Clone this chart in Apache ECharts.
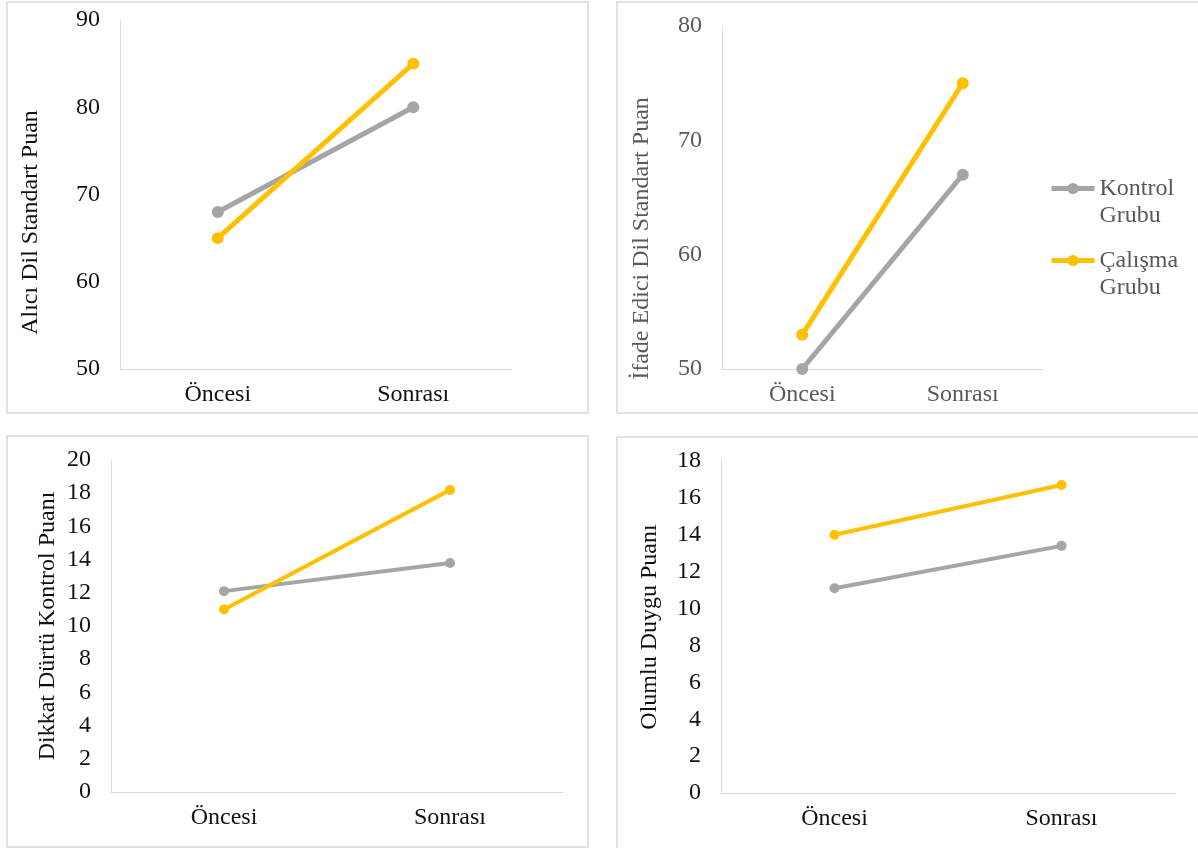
<!DOCTYPE html>
<html>
<head>
<meta charset="utf-8">
<script src="https://cdn.jsdelivr.net/npm/echarts@6/dist/echarts.min.js"></script>
<style>
  html, body { margin: 0; padding: 0; background: #fff; }
  #chart { width: 1198px; height: 848px; }
</style>
</head>
<body>
<div id="chart"></div>
<script>
// ---- data ----
const categories = ['Öncesi', 'Sonrası'];
const seriesNames = ['Kontrol Grubu', 'Çalışma Grubu'];

const aliciKontrol = [68, 80];
const aliciCalisma = [65, 85];

const ifadeKontrol = [50, 67];
const ifadeCalisma = [53, 75];

const dikkatKontrol = [12.1, 13.8];
const dikkatCalisma = [11.0, 18.2];

const olumluKontrol = [11.1, 13.4];
const olumluCalisma = [14.0, 16.7];

const yTitles = ['Alıcı Dil Standart Puan', 'İfade Edici Dil Standart Puan', 'Dikkat Dürtü Kontrol Puanı', 'Olumlu Duygu Puanı'];
const yMins = [50, 50, 0, 0];
const yMaxs = [90, 80, 20, 18];
const yIntervals = [10, 10, 2, 2];

// ---- styling / layout ----
const FONT = "'Liberation Serif', 'Times New Roman', serif";
const GRAY = '#A5A5A5';
const GOLD = '#FFC000';
const AXIS = '#D9D9D9';
const textColors = ['#111', '#595959', '#111', '#111'];
const grids = [
  { left: 120, top: 20, width: 391, height: 349 },
  { left: 722, top: 26, width: 321, height: 343 },
  { left: 111, top: 460, width: 452, height: 332 },
  { left: 721, top: 461, width: 454, height: 332 }
];
const nameGaps = [77, 68, 51, 59];
const namePads = [[0, 56, 0, 0], [0, 82, 0, 0], [0, 0, 0, 0], [0, 0, 0, 0]];
const lineWidths = [5, 5, 4, 4];
const symbolSizes = [12, 12, 10, 10];
const dataSets = [
  [aliciKontrol, aliciCalisma],
  [ifadeKontrol, ifadeCalisma],
  [dikkatKontrol, dikkatCalisma],
  [olumluKontrol, olumluCalisma]
];

const xAxes = [], yAxes = [], series = [];
grids.forEach((g, i) => {
  xAxes.push({
    type: 'category', gridIndex: i, data: categories, boundaryGap: true,
    axisLine: { show: true, lineStyle: { color: AXIS, width: 1 } },
    axisTick: { show: false },
    axisLabel: { fontFamily: FONT, fontSize: 24, color: textColors[i], margin: 14 },
    splitLine: { show: false }
  });
  yAxes.push({
    type: 'value', gridIndex: i, min: yMins[i], max: yMaxs[i], interval: yIntervals[i],
    name: yTitles[i], nameLocation: 'middle', nameGap: nameGaps[i],
    nameTextStyle: { fontFamily: FONT, fontSize: 24, color: textColors[i], padding: namePads[i] },
    axisLine: { show: true, lineStyle: { color: AXIS, width: 1 } },
    axisTick: { show: false },
    axisLabel: { fontFamily: FONT, fontSize: 24, color: textColors[i], margin: 20 },
    splitLine: { show: false }
  });
  [GRAY, GOLD].forEach((c, k) => {
    series.push({
      name: seriesNames[k], type: 'line', xAxisIndex: i, yAxisIndex: i,
      data: dataSets[i][k],
      symbol: 'circle', symbolSize: symbolSizes[i],
      lineStyle: { color: c, width: lineWidths[i] },
      itemStyle: { color: c },
      emphasis: { disabled: true },
      animation: false
    });
  });
});

const borders = [
  { x: 7, y: 2, width: 581, height: 411 },
  { x: 617, y: 2, width: 600, height: 411 },
  { x: 7, y: 436, width: 581, height: 411 },
  { x: 617, y: 437, width: 600, height: 420 }
].map(r => ({
  type: 'rect', shape: r, silent: true, z: -1,
  style: { fill: 'none', stroke: '#D9D9D9', lineWidth: 1.5 }
}));

const chart = echarts.init(document.getElementById('chart'), null, { renderer: 'canvas' });
chart.setOption({
  animation: false,
  backgroundColor: '#fff',
  graphic: borders,
  grid: grids.map(g => Object.assign({ outerBoundsMode: 'none', containLabel: false }, g)),
  xAxis: xAxes,
  yAxis: yAxes,
  legend: {
    data: seriesNames,
    orient: 'vertical',
    left: 1049, top: 148,
    padding: 0,
    itemWidth: 43, itemHeight: 14, itemGap: -9,
    formatter: n => '\n' + n.replace(' ', '\n'),
    lineStyle: { width: 5 },
    textStyle: { fontFamily: FONT, fontSize: 24, color: '#595959', lineHeight: 27 },
    itemStyle: { borderWidth: 0 }
  },
  series: series
});
</script>
</body>
</html>
